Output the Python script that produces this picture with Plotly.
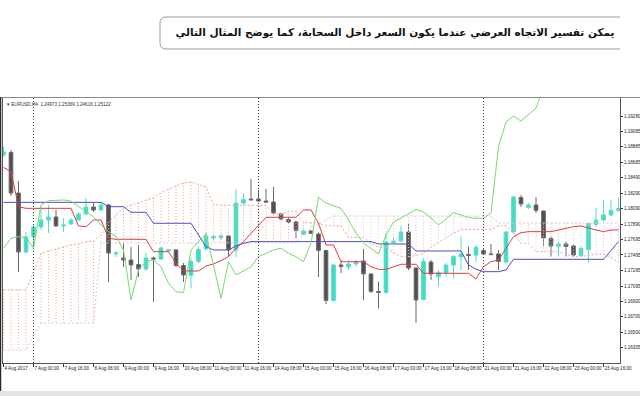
import plotly.graph_objects as go

# ---------------- data (EURUSD H4) ----------------
bars = list(range(83))

open_ = [1.18780, 1.18812, 1.18291, 1.17533, 1.17726, 1.17854, 1.17944, 1.17983, 1.17867, 1.17893,
         1.17944, 1.18022, 1.18111, 1.18073, 1.18137, 1.17508, 1.17456, 1.17430, 1.17372, 1.17315,
         1.17456, 1.17443, 1.17546, 1.17559, 1.17359, 1.17231, 1.17411, 1.17572, 1.17713, 1.17719,
         1.17739, 1.17559, 1.18162, 1.18214, 1.18214, 1.18188, 1.18175, 1.18022, 1.17950, 1.17918,
         1.17758, 1.17803, 1.17764, 1.17553, 1.16910, 1.17366, 1.17340, 1.17379, 1.17417, 1.17251,
         1.17026, 1.17013, 1.17655, 1.17674, 1.17790, 1.17327, 1.16923, 1.17404, 1.17218, 1.17270,
         1.17366, 1.17469, 1.17501, 1.17494, 1.17553, 1.17508, 1.17508, 1.17404, 1.17790, 1.18233,
         1.18105, 1.18137, 1.18060, 1.17707, 1.17604, 1.17636, 1.17610, 1.17488, 1.17565, 1.17886,
         1.17944, 1.18009, 1.18067]
high = [1.18882, 1.18844, 1.18445, 1.17790, 1.17880, 1.18111, 1.18137, 1.18073, 1.17970, 1.17970,
        1.18047, 1.18227, 1.18162, 1.18175, 1.18150, 1.17546, 1.17648, 1.17597, 1.17623, 1.17520,
        1.17475, 1.17604, 1.17572, 1.17572, 1.17391, 1.17456, 1.17604, 1.17777, 1.17752, 1.17764,
        1.17752, 1.18343, 1.18291, 1.18471, 1.18330, 1.18343, 1.18369, 1.18034, 1.17983, 1.17931,
        1.17816, 1.17810, 1.17784, 1.17559, 1.17379, 1.17430, 1.17430, 1.17430, 1.17572, 1.17263,
        1.17154, 1.17777, 1.17713, 1.17861, 1.17905, 1.17334, 1.17456, 1.17430, 1.17302, 1.17391,
        1.17494, 1.17732, 1.17604, 1.17623, 1.17584, 1.17636, 1.17559, 1.17797, 1.18246, 1.18265,
        1.18162, 1.18240, 1.18067, 1.17732, 1.17668, 1.17668, 1.17623, 1.17604, 1.17912, 1.18098,
        1.18201, 1.18201, 1.18227]
low = [1.18754, 1.18253, 1.17276, 1.17514, 1.17584, 1.17816, 1.17777, 1.17854, 1.17790, 1.17880,
       1.17938, 1.18009, 1.18047, 1.18060, 1.17147, 1.17469, 1.17340, 1.17173, 1.17212, 1.17289,
       1.16890, 1.17430, 1.17533, 1.17340, 1.17147, 1.17070, 1.17391, 1.17559, 1.17687, 1.17687,
       1.17469, 1.17469, 1.18137, 1.18195, 1.18175, 1.18162, 1.18022, 1.17944, 1.17905, 1.17713,
       1.17752, 1.17764, 1.17212, 1.16865, 1.16897, 1.17263, 1.17302, 1.17347, 1.16916, 1.17006,
       1.16807, 1.17000, 1.17642, 1.17662, 1.17302, 1.16620, 1.16910, 1.17173, 1.17090, 1.17218,
       1.17199, 1.17302, 1.17302, 1.17404, 1.17494, 1.17488, 1.17302, 1.17385, 1.17771, 1.18111,
       1.18086, 1.18034, 1.17604, 1.17475, 1.17475, 1.17475, 1.17475, 1.17475, 1.17398, 1.17861,
       1.17925, 1.17989, 1.18054]
close = [1.18818, 1.18291, 1.17533, 1.17726, 1.17854, 1.17944, 1.17983, 1.17867, 1.17880, 1.17944,
         1.18022, 1.18111, 1.18073, 1.18137, 1.17520, 1.17520, 1.17430, 1.17366, 1.17315, 1.17456,
         1.17443, 1.17584, 1.17565, 1.17359, 1.17238, 1.17411, 1.17565, 1.17739, 1.17732, 1.17739,
         1.17559, 1.18162, 1.18207, 1.18204, 1.18188, 1.18175, 1.18034, 1.17957, 1.17918, 1.17810,
         1.17803, 1.17771, 1.17553, 1.16910, 1.17366, 1.17347, 1.17379, 1.17411, 1.17251, 1.17026,
         1.17013, 1.17662, 1.17674, 1.17790, 1.17327, 1.16916, 1.17411, 1.17251, 1.17270, 1.17366,
         1.17475, 1.17508, 1.17488, 1.17591, 1.17508, 1.17501, 1.17411, 1.17790, 1.18240, 1.18150,
         1.18137, 1.18067, 1.17713, 1.17610, 1.17636, 1.17604, 1.17494, 1.17578, 1.17899, 1.17944,
         1.18009, 1.18067, 1.18092]

tenkan = [1.18621, 1.18565, 1.18115, 1.18094, 1.18094, 1.18094, 1.18094, 1.18094, 1.18094, 1.18094,
          1.17867, 1.17858, 1.17944, 1.17944, 1.17709, 1.17696, 1.17696, 1.17696, 1.17696, 1.17696,
          1.17537, 1.17537, 1.17537, 1.17388, 1.17289, 1.17289, 1.17289, 1.17353, 1.17379, 1.17421,
          1.17473, 1.17581, 1.17665, 1.17773, 1.17880, 1.17979, 1.17979, 1.17979, 1.17979, 1.17979,
          1.18073, 1.18073, 1.17902, 1.17623, 1.17623, 1.17408, 1.17408, 1.17408, 1.17408, 1.17344,
          1.17310, 1.17310, 1.17344, 1.17375, 1.17375, 1.17375, 1.17259, 1.17259, 1.17259, 1.17259,
          1.17259, 1.17259, 1.17259, 1.17186, 1.17344, 1.17408, 1.17430, 1.17581, 1.17730, 1.17781,
          1.17794, 1.17794, 1.17794, 1.17794, 1.17816, 1.17838, 1.17858, 1.17867, 1.17838, 1.17816,
          1.17794, 1.17816, 1.17816]
kijun = [1.18171, 1.18171, 1.18171, 1.18171, 1.18171, 1.18171, 1.18171, 1.18171, 1.18171, 1.18171,
         1.18171, 1.18171, 1.18171, 1.18171, 1.18115, 1.18115, 1.18115, 1.18043, 1.18043, 1.18043,
         1.17902, 1.17902, 1.17902, 1.17902, 1.17902, 1.17902, 1.17752, 1.17601, 1.17559, 1.17559,
         1.17559, 1.17610, 1.17645, 1.17666, 1.17666, 1.17666, 1.17666, 1.17666, 1.17666, 1.17666,
         1.17666, 1.17666, 1.17666, 1.17666, 1.17666, 1.17666, 1.17666, 1.17666, 1.17666, 1.17666,
         1.17636, 1.17636, 1.17636, 1.17636, 1.17636, 1.17546, 1.17546, 1.17546, 1.17546, 1.17546,
         1.17546, 1.17546, 1.17366, 1.17311, 1.17280, 1.17280, 1.17280, 1.17302, 1.17439, 1.17439,
         1.17439, 1.17439, 1.17439, 1.17439, 1.17439, 1.17439, 1.17439, 1.17439, 1.17439, 1.17439,
         1.17439, 1.17550, 1.17668]
chikou = [1.17581, 1.17709, 1.17730, 1.17722, 1.17581, 1.18137, 1.18192, 1.18201, 1.18201, 1.18188,
          1.18115, 1.18051, 1.17986, 1.17880, 1.17794, 1.17730, 1.17559, 1.16916, 1.17302, 1.17408,
          1.17430, 1.17344, 1.17130, 1.17023, 1.17010, 1.17559, 1.17666, 1.17764, 1.17366, 1.16938,
          1.17408, 1.17238, 1.17289, 1.17344, 1.17473, 1.17520, 1.17559, 1.17581, 1.17516, 1.17473,
          1.17408, 1.17645, 1.18236, 1.18162, 1.18124, 1.18094, 1.17944, 1.17777, 1.17649, 1.17581,
          1.17508, 1.17752, 1.17918, 1.17970, 1.18022, 1.18079, 1.18047, 1.17970, 1.17880, 1.17957,
          1.18038, 1.18009, 1.17976, 1.17966, 1.17966, 1.18034, 1.18886, 1.19203, 1.19280, 1.19216,
          1.19306, 1.19383, 1.19640]
span_a = [1.17045, 1.17045, 1.17045, 1.17045, 1.17276, 1.17520, 1.17546, 1.17572, 1.17597, 1.17623,
          1.17636, 1.17662, 1.17674, 1.17752, 1.17918, 1.18009, 1.18098, 1.18137, 1.18162, 1.18201,
          1.18227, 1.18291, 1.18343, 1.18381, 1.18420, 1.18433, 1.18397, 1.18368, 1.18143, 1.18133,
          1.18133, 1.18133, 1.18133, 1.18133, 1.18133, 1.18133, 1.18019, 1.18015, 1.18057, 1.18057,
          1.17912, 1.17906, 1.17906, 1.17870, 1.17870, 1.17870, 1.17719, 1.17719, 1.17719, 1.17645,
          1.17595, 1.17595, 1.17520, 1.17476, 1.17469, 1.17489, 1.17515, 1.17595, 1.17655, 1.17719,
          1.17772, 1.17822, 1.17822, 1.17822, 1.17822, 1.17822, 1.17868, 1.17868, 1.17783, 1.17643,
          1.17643, 1.17537, 1.17537, 1.17537, 1.17537, 1.17505, 1.17473, 1.17473, 1.17489, 1.17507,
          1.17507, 1.17460, 1.17402]
span_b = [1.16274, 1.16274, 1.16274, 1.16274, 1.16454, 1.16620, 1.16620, 1.16620, 1.16620, 1.16620,
          1.16620, 1.16620, 1.16620, 1.17649, 1.17649, 1.17649, 1.17649, 1.17649, 1.17649, 1.17649,
          1.17649, 1.17649, 1.17649, 1.17649, 1.17649, 1.17649, 1.17649, 1.17649, 1.17649, 1.17649,
          1.17649, 1.17649, 1.17649, 1.17649, 1.17649, 1.17649, 1.17649, 1.17649, 1.17649, 1.17649,
          1.17752, 1.17841, 1.17893, 1.17944, 1.17995, 1.17995, 1.17995, 1.17995, 1.17995, 1.17995,
          1.17995, 1.17995, 1.17995, 1.17995, 1.17995, 1.17995, 1.17995, 1.17995, 1.17995, 1.17995,
          1.17995, 1.17995, 1.17995, 1.17995, 1.17995, 1.17995, 1.17905, 1.17905, 1.17905, 1.17905,
          1.17905, 1.17905, 1.17905, 1.17905, 1.17905, 1.17905, 1.17905, 1.17905, 1.17905, 1.17905,
          1.17905, 1.17905, 1.17905]

x_tick_bars = [0, 4, 8, 12, 16, 20, 24, 28, 32, 36, 40, 44, 48, 52, 56, 60, 64, 68, 72, 76, 80]
x_tick_labels = ["4 Aug 2017", "7 Aug 00:00", "7 Aug 16:00", "8 Aug 08:00", "9 Aug 00:00",
                 "9 Aug 16:00", "10 Aug 08:00", "11 Aug 00:00", "11 Aug 16:00", "14 Aug 08:00",
                 "15 Aug 00:00", "15 Aug 16:00", "16 Aug 08:00", "17 Aug 00:00", "17 Aug 16:00",
                 "18 Aug 08:00", "21 Aug 00:00", "21 Aug 16:00", "22 Aug 08:00", "23 Aug 00:00",
                 "23 Aug 16:00"]
y_tick_values = [1.16105, 1.16305, 1.16500, 1.16700, 1.16900, 1.17095, 1.17295, 1.17495, 1.17695,
                 1.17890, 1.18090, 1.18290, 1.18490, 1.18685, 1.18885, 1.19085, 1.19280]
y_tick_labels = [f"{v:.5f}" for v in y_tick_values]
week_start_bars = [4, 34, 64]

title_text = "يمكن تفسير الاتجاه العرضي عندما يكون السعر داخل السحابة، كما يوضح المثال التالي"
header_text = "▾ EURUSD,H4  1.24973 1.25369 1.24616 1.25122"

# ---------------- page geometry (pixels) ----------------
W, H = 640, 396
ML, MR, MT, MB = 3, 20, 0, 33
PW, PH = W - ML - MR, H - MT - MB
CHART_TOP = 98          # pixel row of the chart frame top


def px(x):
    return (x - ML) / PW


def py(y):
    return (H - MB - y) / PH


UP_KUMO = "#f2a98e"
DOWN_KUMO = "#e4c3ca"

fig = go.Figure()

# kumo hatching: one dotted vertical line per bar between span A and span B
up_x, up_y, dn_x, dn_y = [], [], [], []
for i, a, b in zip(bars, span_a, span_b):
    if a >= b:
        up_x += [i, i, None]
        up_y += [a, b, None]
    else:
        dn_x += [i, i, None]
        dn_y += [a, b, None]
fig.add_trace(go.Scatter(x=up_x, y=up_y, mode="lines", hoverinfo="skip",
                         line=dict(color=UP_KUMO, width=1, dash="1px,2px")))
fig.add_trace(go.Scatter(x=dn_x, y=dn_y, mode="lines", hoverinfo="skip",
                         line=dict(color=DOWN_KUMO, width=1, dash="1px,2px")))
fig.add_trace(go.Scatter(x=bars, y=span_a, mode="lines", hoverinfo="skip",
                         line=dict(color=UP_KUMO, width=1, dash="2px,2px")))
fig.add_trace(go.Scatter(x=bars, y=span_b, mode="lines", hoverinfo="skip",
                         line=dict(color=DOWN_KUMO, width=1, dash="2px,2px")))

fig.add_trace(go.Candlestick(
    x=bars, open=open_, high=high, low=low, close=close,
    whiskerwidth=0,
    increasing=dict(fillcolor="#3edcc5", line=dict(color="#56dcc8", width=1)),
    decreasing=dict(fillcolor="#4f4f4f", line=dict(color="#6a6a6a", width=1)),
))

fig.add_trace(go.Scatter(x=bars, y=tenkan, mode="lines", line=dict(color="#dd3c46", width=1)))
fig.add_trace(go.Scatter(x=bars, y=kijun, mode="lines", line=dict(color="#4e4ec4", width=1)))
fig.add_trace(go.Scatter(x=bars[:len(chikou)], y=chikou, mode="lines",
                         line=dict(color="#7ad870", width=1)))

# title text in its own invisible subplot whose units are page pixels
fig.add_trace(go.Scatter(x=[395], y=[33], mode="text", text=[title_text], xaxis="x2", yaxis="y2",
                         textposition="middle center", hoverinfo="skip",
                         textfont=dict(family="DejaVu Sans", size=10.5, color="#111111", weight="bold")))

shapes = []
for b in week_start_bars:
    shapes.append(dict(type="line", xref="x", yref="y domain", x0=b, x1=b, y0=0, y1=1,
                       line=dict(color="#444444", width=1, dash="1px,2px")))
# window top border
shapes.append(dict(type="line", xref="paper", yref="paper", x0=px(0), x1=px(W), y0=py(97.5), y1=py(97.5),
                   line=dict(color="#8a8a8a", width=1)))
# dark left window edge
shapes.append(dict(type="line", xref="paper", yref="paper", x0=px(0.5), x1=px(0.5), y0=py(97), y1=py(H),
                   line=dict(color="#2a2a2a", width=1.5)))
# bottom grey strip
shapes.append(dict(type="rect", xref="paper", yref="paper", x0=px(0), x1=px(W), y0=py(H), y1=py(391),
                   fillcolor="#e4e4e4", line=dict(width=0)))
# rounded title box (in the pixel-unit subplot)
x0, x1, yt, yb, r = 160, 625, 17, 49, 6
path = (f"M {x0 + r},{yt} L {x1 - r},{yt} Q {x1},{yt} {x1},{yt + r} "
        f"L {x1},{yb - r} Q {x1},{yb} {x1 - r},{yb} "
        f"L {x0 + r},{yb} Q {x0},{yb} {x0},{yb - r} "
        f"L {x0},{yt + r} Q {x0},{yt} {x0 + r},{yt} Z")
shapes.append(dict(type="path", xref="x2", yref="y2", path=path, layer="below",
                   fillcolor="white", line=dict(color="#9c9c9c", width=1)))

annotations = [
    dict(text=header_text, xref="paper", yref="paper", x=px(5), y=py(104.5),
         xanchor="left", yanchor="middle", showarrow=False,
         font=dict(family="Liberation Sans", size=4.6, color="#333333")),
]

fig.update_layout(
    width=W, height=H,
    margin=dict(l=ML, r=MR, t=MT, b=MB, pad=0),
    paper_bgcolor="white", plot_bgcolor="white",
    showlegend=False,
    shapes=shapes, annotations=annotations,
    xaxis=dict(
        range=[(ML - 3.5) / 7.5, (W - MR - 3.5) / 7.5],
        rangeslider=dict(visible=False),
        tickmode="array", tickvals=x_tick_bars, ticktext=x_tick_labels, tickangle=0,
        ticks="outside", ticklen=3, tickcolor="#333333", tickwidth=1,
        ticklabelposition="outside right",
        tickfont=dict(family="Liberation Sans", size=4.6, color="#222222"),
        showgrid=False, zeroline=False,
        showline=True, linecolor="#555555", linewidth=1, mirror=True,
    ),
    yaxis=dict(
        domain=[0, py(CHART_TOP)],
        side="right",
        range=[1.20771 - 0.0001285 * (H - MB), 1.20771 - 0.0001285 * CHART_TOP],
        tickmode="array", tickvals=y_tick_values, ticktext=y_tick_labels,
        ticks="outside", ticklen=2, tickcolor="#333333", tickwidth=1,
        tickfont=dict(family="Liberation Sans", size=4.6, color="#222222"),
        showgrid=False, zeroline=False,
        showline=True, linecolor="#555555", linewidth=1, mirror=True,
    ),
    xaxis2=dict(domain=[0, 1], anchor="y2", range=[ML, W - MR], visible=False, fixedrange=True),
    yaxis2=dict(domain=[py(60), 1], anchor="x2", range=[60, 0], visible=False, fixedrange=True),
)

fig.write_html("out.html")
